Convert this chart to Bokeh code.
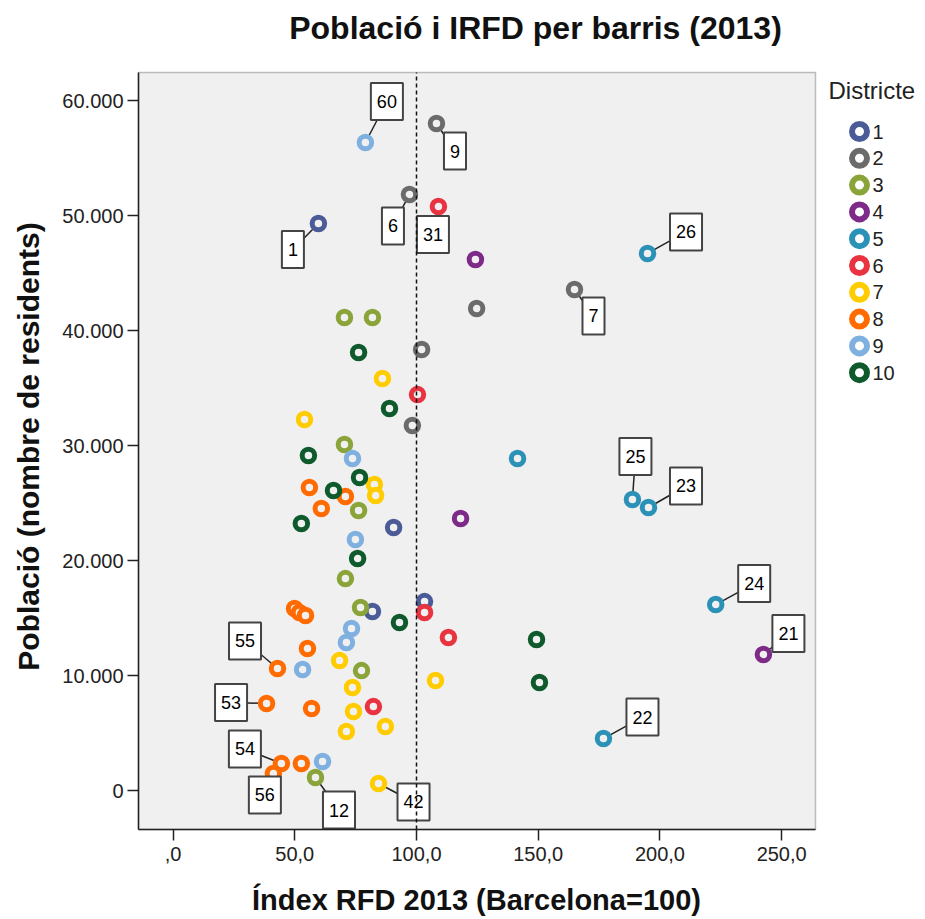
import math
from bokeh.plotting import figure
from bokeh.models import FixedTicker, Range1d, BoxAnnotation
from bokeh.embed import file_html
from bokeh.resources import INLINE
from bokeh.core.properties import value

# ---------------- data ----------------
districte = [1, 1, 1, 1,
             2, 2, 2, 2, 2, 2,
             3, 3, 3, 3, 3, 3, 3, 3,
             4, 4, 4,
             5, 5, 5, 5, 5, 5,
             6, 6, 6, 6, 6,
             7, 7, 7, 7, 7, 7, 7, 7, 7, 7, 7,
             8, 8, 8, 8, 8, 8, 8, 8, 8, 8, 8, 8, 8,
             9, 9, 9, 9, 9, 9, 9,
             10, 10, 10, 10, 10, 10, 10, 10, 10, 10]
index_rfd = [59.7, 90.6, 81.9, 103.3,
             108.2, 97.1, 164.9, 124.7, 102.1, 98.3,
             70.4, 81.9, 70.4, 76.2, 70.8, 77.0, 77.4, 58.5,
             124.2, 118.1, 242.5,
             194.9, 141.5, 188.7, 195.3, 222.9, 176.8,
             109.0, 100.4, 103.3, 113.1, 82.3,
             86.0, 54.0, 82.7, 83.2, 68.4, 107.8, 73.7, 74.1, 87.2, 71.2, 84.4,
             56.0, 60.9, 70.8, 49.9, 51.9, 54.4, 55.2, 42.9, 38.4, 56.9, 44.5, 52.7, 41.2,
             79.0, 73.7, 74.9, 73.3, 71.2, 53.2, 61.4,
             76.2, 88.9, 55.6, 76.6, 65.9, 52.7, 75.8, 93.0, 149.3, 150.5]
poblacio = [49300, 22870, 15570, 16430,
            58000, 51830, 43570, 41910, 38350, 31740,
            41130, 41130, 30090, 24350, 18430, 15910, 10430, 1130,
            46170, 23650, 11830,
            46700, 28870, 25300, 24610, 16170, 4520,
            50780, 34430, 15480, 13300, 7300,
            35830, 32260, 26610, 25650, 11300, 9570, 8960, 6870, 5570, 5130, 610,
            26350, 24520, 25570, 15830, 15480, 15220, 12350, 10610, 7570, 7130, 2350, 2350, 1480,
            56350, 28870, 21830, 14090, 12870, 10520, 2520,
            38090, 33220, 29130, 27220, 26090, 23220, 20170, 14610, 13130, 9390]
barri = ["1", "", "", "",
         "9", "6", "7", "", "", "",
         "", "", "", "", "", "", "", "12",
         "", "", "21",
         "26", "", "25", "23", "24", "22",
         "31", "", "", "", "",
         "", "", "", "", "", "", "", "", "", "", "42",
         "", "", "", "", "", "", "", "55", "53", "", "54", "", "56",
         "60", "", "", "", "", "", "",
         "", "", "", "", "", "", "", "", "", ""]

districtes = [1, 2, 3, 4, 5, 6, 7, 8, 9, 10]
referencia_rfd = 100
x_ticks = [0, 50, 100, 150, 200, 250]
x_tick_labels = [",0", "50,0", "100,0", "150,0", "200,0", "250,0"]
y_ticks = [0, 10000, 20000, 30000, 40000, 50000, 60000]
y_tick_labels = ["0", "10.000", "20.000", "30.000", "40.000", "50.000", "60.000"]

# ---------------- styles / positions ----------------
colors = {1: "#4b5b98", 2: "#6b6b6b", 3: "#8aa43a", 4: "#7d2a88", 5: "#2b91b6",
          6: "#ea3340", 7: "#ffcc00", 8: "#ff6b00", 9: "#7fb0e0", 10: "#0e5a2c"}
# label box offset from its point, in screen pixels (dx right, dy down)
label_offsets = {"1": (-25.5, 26), "6": (-16.5, 31.5), "7": (19, 26.5), "9": (18.5, 27.5),
                 "12": (23.5, 32.5), "21": (25, -21), "22": (39, -21.5), "23": (37.5, -21.5),
                 "24": (38.5, -21), "25": (3, -43), "26": (38.5, -21.5), "31": (-5.5, 28),
                 "42": (35, 18.5), "53": (-35.5, -1), "54": (-36.5, -14.5), "55": (-32.5, -27.5),
                 "56": (-8.5, 21.5), "60": (21.5, -41)}

W, H = 924, 919
PLOT_LEFT, PLOT_TOP, PLOT_RIGHT, PLOT_BOTTOM = 138, 72, 815, 829   # grey area (pixels)
X0, X1 = -14.2, 263.9                         # axis range of the grey plot area
Y0, Y1 = -3390, 62435
pxx = (PLOT_RIGHT - PLOT_LEFT) / (X1 - X0)
pxy = (PLOT_BOTTOM - PLOT_TOP) / (Y1 - Y0)


def dx_(px):
    return X0 + (px - PLOT_LEFT) / pxx


def dy_(py):
    return Y1 - (py - PLOT_TOP) / pxy


FONT = "Liberation Sans"
BG = "#f0f0f0"

# the frame covers the whole canvas; axes are pinned to the grey area's edges
p = figure(width=W, height=H, output_backend="svg", toolbar_location=None,
           x_range=Range1d(dx_(0), dx_(W)), y_range=Range1d(dy_(H), dy_(0)),
           min_border=0, background_fill_color="white", border_fill_color="white")
p.title.visible = False
p.xgrid.visible = False
p.ygrid.visible = False
p.outline_line_color = None

# grey plot area with its frame
p.add_layout(BoxAnnotation(left=X0, right=X1, bottom=Y0, top=Y1, fill_color=BG,
                           fill_alpha=1.0, line_color="#333333", line_width=1.5,
                           level="underlay"))

for ax in (p.xaxis[0], p.yaxis[0]):
    ax.axis_line_color = "#222222"
    ax.axis_line_width = 1.5
    ax.major_tick_line_color = "#222222"
    ax.major_tick_line_width = 1.5
    ax.major_tick_out = 11
    ax.major_tick_in = 0
    ax.minor_tick_line_color = None
    ax.major_label_text_font = FONT
    ax.major_label_text_font_size = "20px"
    ax.major_label_text_color = "#222222"

p.xaxis.fixed_location = Y0
p.yaxis.fixed_location = X0
p.xaxis.bounds = (X0, X1)
p.yaxis.bounds = (Y0, Y1)
p.xaxis.ticker = FixedTicker(ticks=x_ticks)
p.xaxis.major_label_overrides = {t: s for t, s in zip(x_ticks, x_tick_labels)}
p.yaxis.ticker = FixedTicker(ticks=y_ticks)
p.yaxis.major_label_overrides = {t: s for t, s in zip(y_ticks, y_tick_labels)}
p.xaxis.major_label_standoff = 6
p.yaxis.major_label_standoff = 4

# titles
p.text(x=[dx_(535)], y=[dy_(27)], text=["Població i IRFD per barris (2013)"],
       text_align="center", text_baseline="middle", text_font=value(FONT),
       text_font_size="32px", text_font_style="bold", text_color="#111111")
p.text(x=[dx_(476)], y=[dy_(899)], text=["Índex RFD 2013 (Barcelona=100)"],
       text_align="center", text_baseline="middle", text_font=value(FONT),
       text_font_size="29px", text_font_style="bold", text_color="#111111")
p.text(x=[dx_(28)], y=[dy_(446)], text=["Població (nombre de residents)"], angle=math.pi / 2,
       text_align="center", text_baseline="middle", text_font=value(FONT),
       text_font_size="30px", text_font_style="bold", text_color="#111111")

# leader lines (point -> label box centre)
lx0, ly0, lx1, ly1, ltxt = [], [], [], [], []
for x, y, b in zip(index_rfd, poblacio, barri):
    if b:
        ox, oy = label_offsets[b]
        lx0.append(x); ly0.append(y)
        lx1.append(x + ox / pxx); ly1.append(y - oy / pxy)
        ltxt.append(b)
p.segment(x0=lx0, y0=ly0, x1=lx1, y1=ly1, line_color="#222222", line_width=1.5)

# points, one renderer per district
for d in districtes:
    xs = [x for x, dd in zip(index_rfd, districte) if dd == d]
    ys = [y for y, dd in zip(poblacio, districte) if dd == d]
    p.scatter(x=xs, y=ys, size=12.5, line_width=5, line_color=colors[d],
              fill_color=BG, fill_alpha=1.0)

# label boxes
p.text(x=lx1, y=ly1, text=ltxt, text_align="center", text_baseline="middle",
       text_font=value(FONT), text_font_size="18px", text_color="black",
       background_fill_color="white", border_line_color="#444444", border_line_width=2,
       padding=dict(left=6, right=6, top=12, bottom=12))

# reference line at Barcelona = 100
p.segment(x0=[referencia_rfd], y0=[Y0], x1=[referencia_rfd], y1=[Y1],
          line_color="#111111", line_width=1.5, line_dash="4 3")

# legend (drawn in the area right of the plot)
LEG_TITLE_X, LEG_TITLE_Y = 828, 90
LEG_RING_X, LEG_TEXT_X, LEG_Y0, LEG_STEP = 859, 872, 131, 26.8
leg_y = [dy_(LEG_Y0 + i * LEG_STEP) for i in range(len(districtes))]
p.text(x=[dx_(LEG_TITLE_X)], y=[dy_(LEG_TITLE_Y)], text=["Districte"],
       text_align="left", text_baseline="middle", text_font=value(FONT),
       text_font_size="24px", text_color="#222222")
p.scatter(x=[dx_(LEG_RING_X)] * len(districtes), y=leg_y, size=15, line_width=6,
          line_color=[colors[d] for d in districtes], fill_color="white")
p.text(x=[dx_(LEG_TEXT_X)] * len(districtes), y=leg_y, text=[str(d) for d in districtes],
       text_align="left", text_baseline="middle", text_font=value(FONT),
       text_font_size="20px", text_color="#222222")

open("out.html", "w").write(file_html(p, INLINE))
